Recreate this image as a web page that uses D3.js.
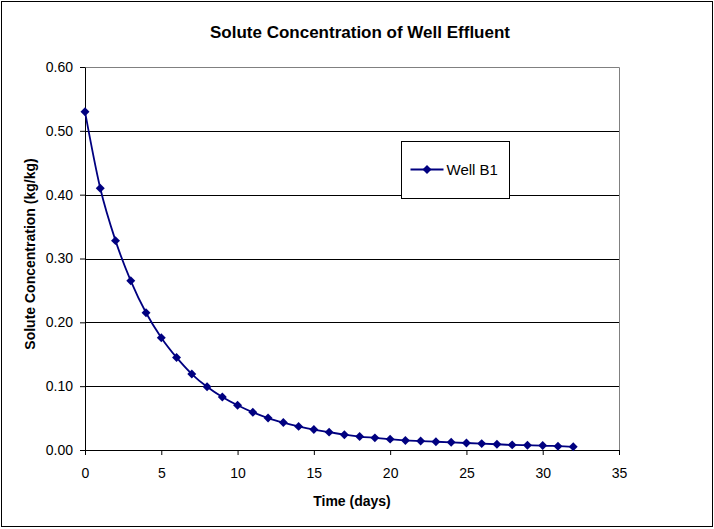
<!DOCTYPE html>
<html>
<head>
<meta charset="utf-8">
<script src="https://cdn.jsdelivr.net/npm/d3@7"></script>
<style>
  html, body { margin: 0; padding: 0; background: #fff; }
  svg { display: block; font-family: Arial, "Liberation Sans", sans-serif; }
</style>
</head>
<body>
<svg id="chart" width="714" height="529"></svg>
<script>
// Well B1 effluent samples, one per day
const days = [0, 1, 2, 3, 4, 5, 6, 7, 8, 9, 10, 11, 12, 13, 14, 15, 16,
              17, 18, 19, 20, 21, 22, 23, 24, 25, 26, 27, 28, 29, 30, 31, 32];
const concentration = [0.530, 0.410, 0.328, 0.265, 0.215, 0.176, 0.145, 0.119,
                       0.099, 0.083, 0.070, 0.059, 0.050, 0.043, 0.037, 0.032,
                       0.028, 0.024, 0.021, 0.019, 0.017, 0.015, 0.014, 0.013,
                       0.012, 0.011, 0.010, 0.009, 0.008, 0.0075, 0.007, 0.006, 0.005];
const xTicks = [0, 5, 10, 15, 20, 25, 30, 35];
const yTicks = [0.00, 0.10, 0.20, 0.30, 0.40, 0.50, 0.60];
const seriesName = "Well B1";
const chartTitle = "Solute Concentration of Well Effluent";
const xTitle = "Time (days)";
const yTitle = "Solute Concentration (kg/kg)";

const svg = d3.select("#chart");
const navy = "#000080";
const plot = { left: 85, right: 619, top: 67, bottom: 450 };

// Outer chart frame
svg.append("rect")
  .attr("x", 1.5).attr("y", 1.5).attr("width", 711).attr("height", 525)
  .attr("fill", "#fff").attr("stroke", "#000").attr("stroke-width", 1);

const x = d3.scaleLinear().domain([0, 35]).range([plot.left, plot.right]);
const y = d3.scaleLinear().domain([0, 0.6]).range([plot.bottom, plot.top]);

// Horizontal gridlines
svg.append("g")
  .selectAll("line")
  .data(yTicks.filter(v => v > 0 && v < 0.6))
  .join("line")
  .attr("x1", plot.left).attr("x2", plot.right)
  .attr("y1", d => Math.round(y(d)) + 0.5).attr("y2", d => Math.round(y(d)) + 0.5)
  .attr("stroke", "#000").attr("stroke-width", 1);

// Plot-area border (top and right)
svg.append("path")
  .attr("d", `M${plot.left},${plot.top + 0.5}H${plot.right + 0.5}V${plot.bottom}`)
  .attr("fill", "none").attr("stroke", "#808080").attr("stroke-width", 1);

// Axes
const xAxis = svg.append("g")
  .attr("transform", `translate(0,${plot.bottom})`)
  .call(d3.axisBottom(x).tickValues(xTicks).tickSize(5).tickSizeOuter(0).tickPadding(13)
    .tickFormat(d3.format("d")));
const yAxis = svg.append("g")
  .attr("transform", `translate(${plot.left},0)`)
  .call(d3.axisLeft(y).tickValues(yTicks).tickSize(5).tickSizeOuter(0).tickPadding(7)
    .tickFormat(d3.format(".2f")));

[xAxis, yAxis].forEach(g => {
  g.select(".domain").attr("stroke", "#000");
  g.selectAll(".tick line").attr("stroke", "#000");
  g.selectAll(".tick text")
    .attr("fill", "#000")
    .style("font-family", "Arial, 'Liberation Sans', sans-serif")
    .style("font-size", "14px");
});

// Smoothed series line
const line = d3.line()
  .x((d, i) => x(days[i]))
  .y(d => y(d))
  .curve(d3.curveCatmullRom.alpha(0));
svg.append("path")
  .datum(concentration)
  .attr("d", line)
  .attr("fill", "none")
  .attr("stroke", navy)
  .attr("stroke-width", 1.8);

// Diamond markers
const diamond = d3.symbol().type(d3.symbolSquare).size(40);
svg.append("g")
  .selectAll("path")
  .data(concentration)
  .join("path")
  .attr("d", diamond)
  .attr("transform", (d, i) => `translate(${x(days[i])},${y(d)}) rotate(45)`)
  .attr("fill", navy);

// Titles
svg.append("text")
  .attr("x", 360).attr("y", 38)
  .attr("text-anchor", "middle")
  .style("font-size", "17px").style("font-weight", "bold")
  .text(chartTitle);
svg.append("text")
  .attr("x", (plot.left + plot.right) / 2).attr("y", 506)
  .attr("text-anchor", "middle")
  .style("font-size", "14px").style("font-weight", "bold")
  .text(xTitle);
svg.append("text")
  .attr("transform", "translate(35,254) rotate(-90)")
  .attr("text-anchor", "middle")
  .style("font-size", "14px").style("font-weight", "bold")
  .text(yTitle);

// Legend
const legend = svg.append("g").attr("transform", "translate(401.5,141.5)");
legend.append("rect")
  .attr("width", 108).attr("height", 57)
  .attr("fill", "#fff").attr("stroke", "#000").attr("stroke-width", 1);
legend.append("line")
  .attr("x1", 9).attr("x2", 42).attr("y1", 28).attr("y2", 28)
  .attr("stroke", navy).attr("stroke-width", 1.8);
legend.append("path")
  .attr("d", diamond)
  .attr("transform", "translate(25.5,28) rotate(45)")
  .attr("fill", navy);
legend.append("text")
  .attr("x", 45).attr("y", 33.5)
  .style("font-size", "15px")
  .text(seriesName);
</script>
</body>
</html>
